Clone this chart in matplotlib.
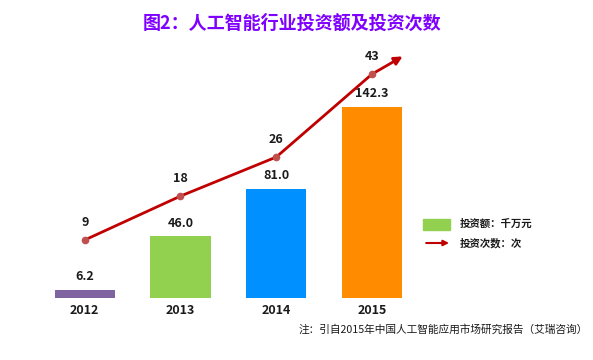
import matplotlib
matplotlib.use('Agg')
import matplotlib.pyplot as plt
from matplotlib.patches import Rectangle

plt.rcParams['font.family'] = ['Noto Sans CJK SC', 'DejaVu Sans']

years = ['2012', '2013', '2014', '2015']
amount = [6.2, 46.0, 81.0, 142.3]      # 投资额（千万元）
counts = [9, 18, 26, 43]               # 投资次数
bar_colors = ['#8064A2', '#92D050', '#0090FF', '#FF8C00']

fig = plt.figure(figsize=(5.93, 3.6), dpi=100)
ax = fig.add_axes([0.054, 0.172, 0.646, 0.717])
x = list(range(len(years)))

bars = ax.bar(x, amount, width=0.63, color=bar_colors)
for xi, v in zip(x, amount):
    ax.text(xi, v + 5, '%.1f' % v, ha='center', va='bottom',
            fontsize=9, fontweight='bold', color='#1a1a1a')
ax.set_xlim(-0.55, 3.45)
ax.set_ylim(0, 192)
ax.set_xticks(x)
ax.set_xticklabels(years, fontsize=9, fontweight='bold', color='#1a1a1a')
ax.tick_params(axis='x', length=0, pad=4)
ax.set_yticks([])
for s in ax.spines.values():
    s.set_visible(False)

ax2 = ax.twinx()
ax2.set_ylim(-2.9, 50)
ax2.plot(x, counts, color='#C00000', lw=2, zorder=3)
ax2.plot(x, counts, 'o', color='#C0504D', ms=4.5, zorder=4)
# arrow continues past the last point along the overall trend
slope = (counts[-1] - counts[0]) / (x[-1] - x[0])
ax2.annotate('', xy=(x[-1] + 0.32, counts[-1] + 0.32 * slope),
             xytext=(x[-1], counts[-1]),
             arrowprops=dict(arrowstyle='-|>', color='#C00000', lw=2,
                             mutation_scale=12, shrinkA=0, shrinkB=0))
for xi, v in zip(x, counts):
    ax2.text(xi, v + 2.2, str(v), ha='center', va='bottom',
             fontsize=9, fontweight='bold', color='#1a1a1a')
ax2.set_yticks([])
for s in ax2.spines.values():
    s.set_visible(False)

fig.text(0.492, 0.935, '图2：人工智能行业投资额及投资次数', ha='center', va='center',
         fontsize=13, fontweight='bold', color='#7F00FF')

# legend
fig.patches.append(Rectangle((0.713, 0.362), 0.046, 0.03, transform=fig.transFigure,
                             color='#92D050'))
fig.text(0.776, 0.378, '投资额：千万元', fontsize=7.5, fontweight='bold',
         va='center', color='#1a1a1a')
fig.add_artist(matplotlib.patches.FancyArrowPatch((0.714, 0.325), (0.762, 0.325),
               transform=fig.transFigure, arrowstyle='-|>', color='#C00000',
               lw=1.5, mutation_scale=8))
fig.text(0.776, 0.325, '投资次数：次', fontsize=7.5, fontweight='bold',
         va='center', color='#1a1a1a')

fig.text(0.992, 0.086, '注：引自2015年中国人工智能应用市场研究报告（艾瑞咨询）',
         ha='right', va='center', fontsize=7.7, color='#1a1a1a')

fig.savefig('out.png', dpi=100)
